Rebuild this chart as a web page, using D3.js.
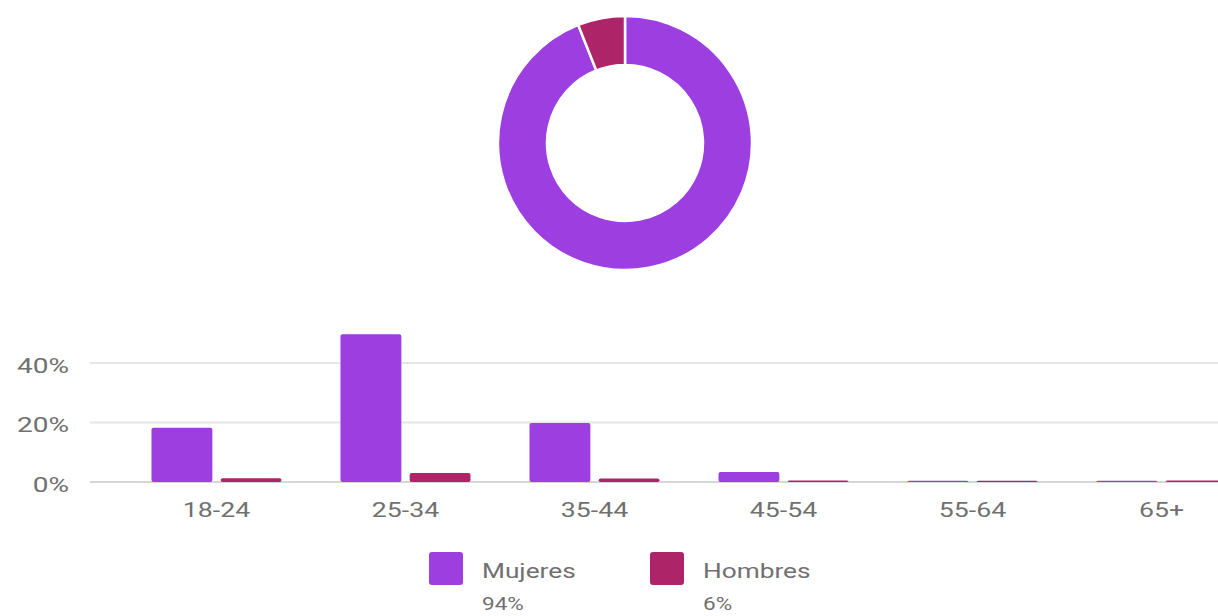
<!DOCTYPE html>
<html>
<head>
<meta charset="utf-8">
<script src="https://cdn.jsdelivr.net/npm/d3@7/dist/d3.min.js"></script>
<style>
  body { margin: 0; background: #fff; }
  text { font-family: Roboto, "Noto Sans", sans-serif; fill: #707070; }
</style>
</head>
<body>
<script>
// datos
var generos = ['Mujeres', 'Hombres'];
var totales = [94, 6];
var edades = ['18-24', '25-34', '35-44', '45-54', '55-64', '65+'];
var mujeres = [18.2, 49.7, 19.8, 3.4, 0.4, 0.4];
var hombres = [1.3, 3.0, 1.2, 0.5, 0.4, 0.5];
var yTicks = [0, 20, 40];

var colores = ['#9c3ee0', '#ad2468'];
var width = 1218;
var height = 616;

var svg = d3.select('body').append('svg').attr('width', width).attr('height', height);

// dona
var pie = d3.pie().sort(null);
var arc = d3.arc().innerRadius(78).outerRadius(127);
svg.append('g')
    .attr('transform', 'translate(625,143)')
    .selectAll('path')
    .data(pie(totales))
    .enter()
    .append('path')
    .attr('d', arc)
    .attr('fill', function (d, i) { return colores[i]; })
    .attr('stroke', '#fff')
    .attr('stroke-width', 2.5);

// barras
var y = d3.scaleLinear().domain([0, 50]).range([482, 333.25]);
var x0 = d3.scaleBand().domain(edades).range([122, 1256]).paddingInner(0.312).paddingOuter(0.156);
var x1 = d3.scaleBand().domain(generos).range([0, x0.bandwidth()]).paddingInner(0.12);

// lineas de la grilla
svg.append('g')
    .selectAll('line')
    .data(yTicks)
    .enter()
    .append('line')
    .attr('x1', 90)
    .attr('x2', width)
    .attr('y1', function (d) { return y(d); })
    .attr('y2', function (d) { return y(d); })
    .attr('stroke', function (d) { return d === 0 ? '#d6d6d6' : '#e6e6e6'; })
    .attr('stroke-width', 2);

var yAxis = d3.axisLeft(y).tickValues(yTicks).tickSize(0).tickPadding(15)
    .tickFormat(function (d) { return d + '%'; });
var gy = svg.append('g').attr('transform', 'translate(90,0)').call(yAxis);
gy.select('.domain').remove();
gy.selectAll('text')
    .style('font-size', '20px')
    .style('fill', '#707070')
    .attr('dy', '0.45em')
    .attr('transform', 'scale(1.4,1)');

var series = [mujeres, hombres];
var grupos = svg.append('g')
    .selectAll('g')
    .data(edades)
    .enter()
    .append('g')
    .attr('transform', function (d) { return 'translate(' + x0(d) + ',0)'; });

grupos.selectAll('rect')
    .data(function (d, i) {
        return generos.map(function (g, k) { return { g: g, k: k, v: series[k][i] }; });
    })
    .enter()
    .append('rect')
    .attr('x', function (d) { return x1(d.g); })
    .attr('width', x1.bandwidth())
    .attr('y', function (d) { return y(d.v); })
    .attr('height', function (d) { return y(0) - y(d.v); })
    .attr('rx', 2)
    .attr('fill', function (d) { return colores[d.k]; });

var xAxis = d3.axisBottom(x0).tickSize(0).tickPadding(20);
var gx = svg.append('g').attr('transform', 'translate(0,482)').call(xAxis);
gx.select('.domain').remove();
gx.selectAll('text')
    .style('font-size', '21px')
    .style('fill', '#707070')
    .attr('transform', 'scale(1.27,1)');

// leyenda
var leyenda = svg.append('g')
    .selectAll('g')
    .data(generos)
    .enter()
    .append('g')
    .attr('transform', function (d, i) { return 'translate(' + (429 + i * 221) + ',552)'; });

leyenda.append('rect')
    .attr('width', 34)
    .attr('height', 33)
    .attr('rx', 3)
    .attr('fill', function (d, i) { return colores[i]; });

leyenda.append('text')
    .attr('x', 53 / 1.25)
    .attr('y', 26)
    .attr('transform', 'scale(1.25,1)')
    .style('font-size', '21px')
    .text(function (d) { return d; });

leyenda.append('text')
    .attr('x', 53 / 1.25)
    .attr('y', 58)
    .attr('transform', 'scale(1.25,1)')
    .style('font-size', '18px')
    .text(function (d, i) { return totales[i] + '%'; });
</script>
</body>
</html>
